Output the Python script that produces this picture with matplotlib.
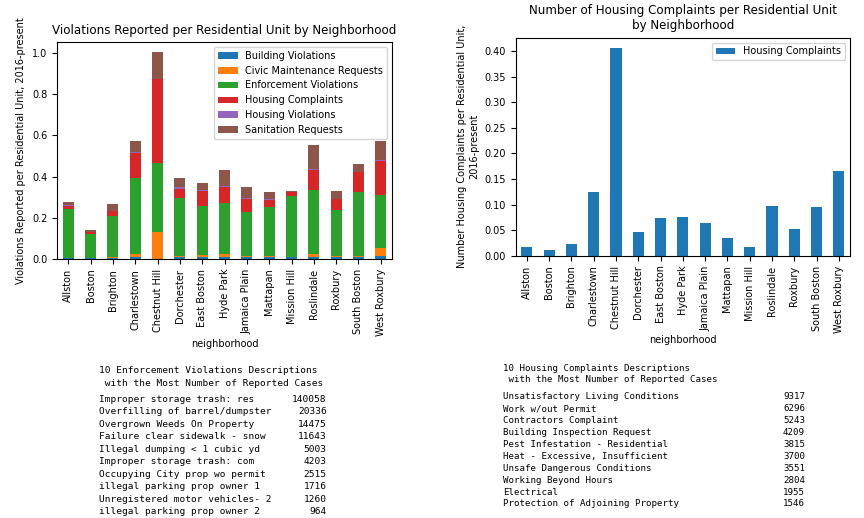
import matplotlib
matplotlib.use("Agg")
import matplotlib.pyplot as plt
import numpy as np

neighborhoods = ['Allston', 'Boston', 'Brighton', 'Charlestown', 'Chestnut Hill',
                 'Dorchester', 'East Boston', 'Hyde Park', 'Jamaica Plain', 'Mattapan',
                 'Mission Hill', 'Roslindale', 'Roxbury', 'South Boston', 'West Roxbury']

building_violations = [0.006, 0.005, 0.004, 0.010, 0.002, 0.011, 0.010, 0.011, 0.008, 0.008,
                       0.011, 0.011, 0.010, 0.009, 0.015]
civic_maintenance = [0.001, 0.001, 0.006, 0.014, 0.127, 0.005, 0.010, 0.012, 0.006, 0.006,
                     0.001, 0.013, 0.005, 0.007, 0.037]
enforcement_violations = [0.235, 0.114, 0.198, 0.367, 0.337, 0.280, 0.238, 0.251, 0.215, 0.236,
                          0.296, 0.309, 0.223, 0.309, 0.259]
housing_complaints = [0.017, 0.012, 0.023, 0.124, 0.406, 0.046, 0.073, 0.075, 0.064, 0.035,
                      0.017, 0.097, 0.052, 0.095, 0.165]
housing_violations = [0.002, 0.001, 0.002, 0.003, 0.003, 0.008, 0.003, 0.003, 0.003, 0.007,
                      0.002, 0.008, 0.002, 0.002, 0.003]
sanitation_requests = [0.016, 0.007, 0.032, 0.055, 0.128, 0.045, 0.035, 0.082, 0.054, 0.031,
                       0.005, 0.115, 0.040, 0.039, 0.094]

series_names = ['Building Violations', 'Civic Maintenance Requests', 'Enforcement Violations',
                'Housing Complaints', 'Housing Violations', 'Sanitation Requests']
series_values = [building_violations, civic_maintenance, enforcement_violations,
                 housing_complaints, housing_violations, sanitation_requests]

enf_desc = ['Improper storage trash: res', 'Overfilling of barrel/dumpster',
            'Overgrown Weeds On Property', 'Failure clear sidewalk - snow',
            'Illegal dumping < 1 cubic yd', 'Improper storage trash: com',
            'Occupying City prop wo permit', 'illegal parking prop owner 1',
            'Unregistered motor vehicles- 2', 'illegal parking prop owner 2']
enf_counts = [140058, 20336, 14475, 11643, 5003, 4203, 2515, 1716, 1260, 964]

hc_desc = ['Unsatisfactory Living Conditions', 'Work w/out Permit', 'Contractors Complaint',
           'Building Inspection Request', 'Pest Infestation - Residential',
           'Heat - Excessive, Insufficient', 'Unsafe Dangerous Conditions',
           'Working Beyond Hours', 'Electrical', 'Protection of Adjoining Property']
hc_counts = [9317, 6296, 5243, 4209, 3815, 3700, 3551, 2804, 1955, 1546]

colors = ['#1f77b4', '#ff7f0e', '#2ca02c', '#d62728', '#9467bd', '#8c564b']
FS = 7
TFS = 8.6

fig = plt.figure(figsize=(8.64, 5.18), dpi=100)

# Left stacked chart
ax1 = fig.add_axes([0.066, 0.5, 0.3877, 0.4189])
x = np.arange(len(neighborhoods))
bottom = np.zeros(len(neighborhoods))
for name, vals, c in zip(series_names, series_values, colors):
    v = np.array(vals)
    ax1.bar(x, v, 0.5, bottom=bottom, color=c, label=name)
    bottom += v
ax1.set_xticks(x)
ax1.set_xticklabels(neighborhoods, rotation=90, fontsize=FS)
ax1.set_xlim(-0.5, len(neighborhoods) - 0.5)
ax1.tick_params(axis='y', labelsize=FS)
ax1.set_xlabel('neighborhood', fontsize=FS, labelpad=2)
ax1.set_ylabel('Violations Reported per Residential Unit, 2016-present', fontsize=FS)
ax1.set_title('Violations Reported per Residential Unit by Neighborhood', fontsize=TFS)
ax1.legend(loc='upper right', fontsize=FS)

# Right chart
ax2 = fig.add_axes([0.5969, 0.5064, 0.3869, 0.4208])
ax2.bar(x, housing_complaints, 0.5, color=colors[0], label='Housing Complaints')
ax2.set_xticks(x)
ax2.set_xticklabels(neighborhoods, rotation=90, fontsize=FS)
ax2.set_xlim(-0.5, len(neighborhoods) - 0.5)
ax2.tick_params(axis='y', labelsize=FS)
ax2.set_xlabel('neighborhood', fontsize=FS, labelpad=2)
ax2.set_ylabel('Number Housing Complaints per Residential Unit,\n2016-present', fontsize=FS)
ax2.set_title('Number of Housing Complaints per Residential Unit\nby Neighborhood', fontsize=TFS)
ax2.legend(loc='upper right', fontsize=FS)

W, H = 864.0, 518.0
mono = 'DejaVu Sans Mono'
MFS = 6.8

def px(xp, yp):
    return xp / W, 1 - yp / H

# Left text block
fig.text(*px(99, 370.7), '10 Enforcement Violations Descriptions', family=mono, fontsize=MFS, va='center', ha='left')
fig.text(*px(99, 383.3), ' with the Most Number of Reported Cases', family=mono, fontsize=MFS, va='center', ha='left')
for i, (d, n) in enumerate(zip(enf_desc, enf_counts)):
    y = 399.3 + i * 12.5
    fig.text(*px(99, y), d, family=mono, fontsize=MFS, va='center', ha='left')
    fig.text(*px(326.7, y), str(n), family=mono, fontsize=MFS, va='center', ha='right')

# Right text block
MFS2 = 6.6
fig.text(*px(502.7, 368.3), '10 Housing Complaints Descriptions', family=mono, fontsize=MFS2, va='center', ha='left')
fig.text(*px(502.7, 380.0), ' with the Most Number of Reported Cases', family=mono, fontsize=MFS2, va='center', ha='left')
for i, (d, n) in enumerate(zip(hc_desc, hc_counts)):
    y = 396.7 + i * 11.92
    fig.text(*px(502.7, y), d, family=mono, fontsize=MFS2, va='center', ha='left')
    fig.text(*px(805, y), str(n), family=mono, fontsize=MFS2, va='center', ha='right')

fig.savefig('out.png', dpi=100)
